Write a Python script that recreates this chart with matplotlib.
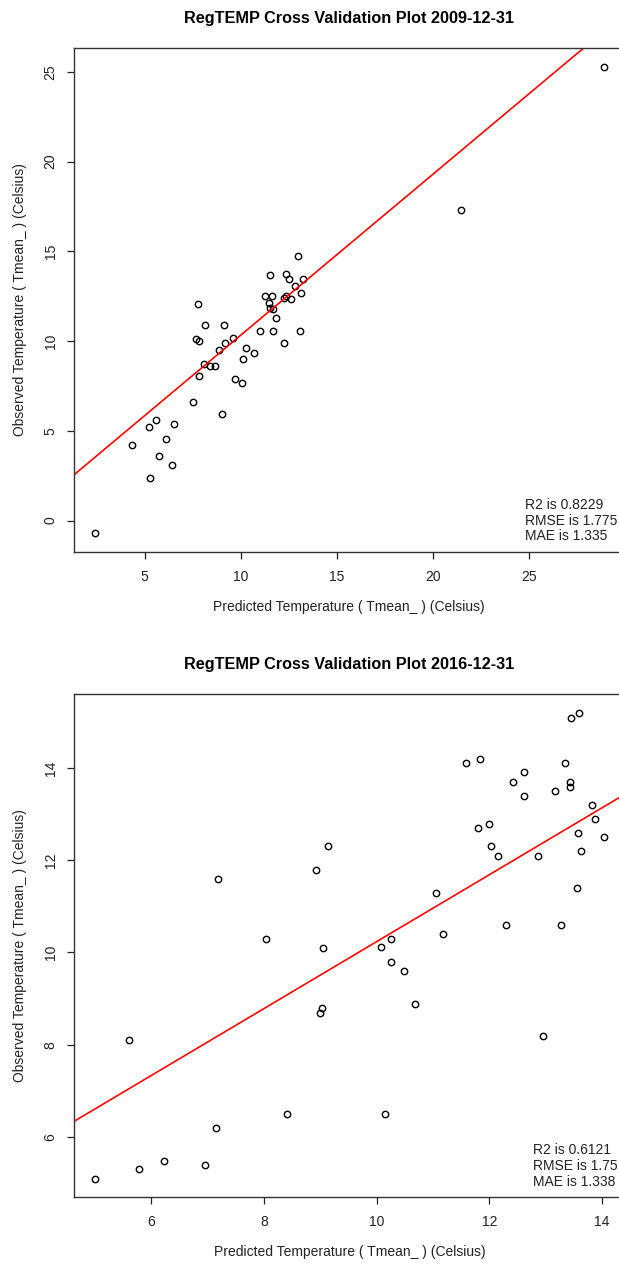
import matplotlib
matplotlib.use("Agg")
import matplotlib.pyplot as plt

plt.rcParams['font.family'] = ['Liberation Sans', 'DejaVu Sans']

# 2009-12-31 cross validation (predicted, observed)
pred_2009 = [2.39, 4.36, 5.27, 5.25, 5.61, 5.74, 6.09, 6.40, 6.52, 7.53,
             7.82, 7.65, 7.82, 7.78, 8.08, 8.16, 8.39, 8.65, 8.85, 9.03,
             9.14, 9.17, 9.59, 9.70, 10.10, 10.08, 10.28, 10.68, 11.00, 11.68,
             13.07, 12.26, 11.84, 11.45, 11.52, 11.69, 11.26, 11.61, 11.55, 12.26,
             12.38, 12.64, 12.38, 12.51, 13.26, 12.83, 13.14, 12.97, 21.50, 28.90]
obs_2009 = [-0.70, 4.19, 2.38, 5.21, 5.58, 3.61, 4.52, 3.07, 5.40, 6.61,
            8.07, 10.12, 9.99, 12.09, 8.75, 10.88, 8.62, 8.62, 9.50, 5.93,
            10.88, 9.89, 10.19, 7.91, 9.03, 7.68, 9.60, 9.31, 10.59, 10.59,
            10.59, 9.89, 11.28, 12.11, 11.83, 11.78, 12.50, 12.50, 13.71, 12.38,
            12.50, 12.37, 13.72, 13.48, 13.48, 13.08, 12.69, 14.77, 17.28, 25.28]

# 2016-12-31 cross validation (predicted, observed)
pred_2016 = [13.46, 13.60, 11.59, 11.84, 13.35, 12.61, 12.42, 13.43, 13.44, 12.62,
             13.17, 13.82, 13.88, 11.80, 11.99, 13.57, 14.04, 12.03, 12.15, 12.87,
             13.63, 13.56, 11.05, 12.29, 13.27, 11.18, 10.26, 10.07, 9.13, 8.93,
             7.19, 8.03, 9.05, 9.03, 9.00, 5.60, 8.41, 7.15, 6.23, 6.95,
             5.78, 4.99, 10.25, 10.48, 10.68, 12.95, 10.15]
obs_2016 = [15.09, 15.19, 14.10, 14.19, 14.10, 13.90, 13.69, 13.69, 13.59, 13.39,
            13.49, 13.19, 12.90, 12.69, 12.79, 12.59, 12.50, 12.30, 12.10, 12.10,
            12.20, 11.39, 11.29, 10.59, 10.59, 10.40, 10.29, 10.11, 12.30, 11.79,
            11.59, 10.29, 10.09, 8.79, 8.68, 8.10, 6.50, 6.19, 5.49, 5.39,
            5.30, 5.10, 9.80, 9.59, 8.89, 8.19, 6.50]

# fitted lines (intercept, slope) and stats
fit_2009 = (1.367, 0.896)
fit_2016 = (2.99, 0.7245)
stats_2009 = ["R2 is 0.8229", "RMSE is 1.775", "MAE is 1.335"]
stats_2016 = ["R2 is 0.6121", "RMSE is 1.75", "MAE is 1.338"]

fig = plt.figure(figsize=(6.19, 12.64), dpi=100)
ax1 = fig.add_axes([0.1199, 0.5635, 0.888, 0.3983])
ax2 = fig.add_axes([0.1199, 0.0528, 0.889, 0.3979])


def draw(ax, x, y, fit, stats, title, xticks, yticks, tx):
    ax.plot(x, y, 'o', mfc='none', mec='black', ms=4.6, mew=1.0, ls='none')
    ax.axline((0, fit[0]), slope=fit[1], color='#ff0000', lw=1.2)
    # R style 4% padding
    xr = max(x) - min(x)
    yr = max(y) - min(y)
    ax.set_xlim(min(x) - 0.04 * xr, max(x) + 0.04 * xr)
    ax.set_ylim(min(y) - 0.04 * yr, max(y) + 0.04 * yr)
    ax.set_xticks(xticks)
    ax.set_yticks(yticks)
    ax.tick_params(direction='out', length=5, width=0.9, labelsize=10,
                   pad=7, colors='#222222')
    ax.tick_params(axis='x', pad=8)
    ax.tick_params(axis='y', labelrotation=90)
    for lab in ax.get_yticklabels():
        lab.set_va('center')
    for s in ax.spines.values():
        s.set_linewidth(1.0)
        s.set_color('#333333')
    ax.set_xlabel('Predicted Temperature ( Tmean_ ) (Celsius)', fontsize=10,
                  color='#222222')
    ax.xaxis.set_label_coords(0.5, -0.109)
    ax.xaxis.label.set_va('center')
    ax.set_ylabel('Observed Temperature ( Tmean_ ) (Celsius)', fontsize=10,
                  color='#222222')
    ax.yaxis.set_label_coords(-0.099, 0.5)
    ax.yaxis.label.set_va('center')
    ax.text(0.5, 1.06, title, transform=ax.transAxes, ha='center',
            va='center', fontsize=11.7, fontweight='bold')
    for i, s in enumerate(stats):
        ax.text(tx, 0.093 - i * 0.0312, s, transform=ax.transAxes,
                ha='left', va='center', fontsize=10, color='#222222')


draw(ax1, pred_2009, obs_2009, fit_2009, stats_2009,
     'RegTEMP Cross Validation Plot 2009-12-31',
     [5, 10, 15, 20, 25], [0, 5, 10, 15, 20, 25], 0.82)
draw(ax2, pred_2016, obs_2016, fit_2016, stats_2016,
     'RegTEMP Cross Validation Plot 2016-12-31',
     [6, 8, 10, 12, 14], [6, 8, 10, 12, 14], 0.833)

fig.savefig('out.png', dpi=100)
